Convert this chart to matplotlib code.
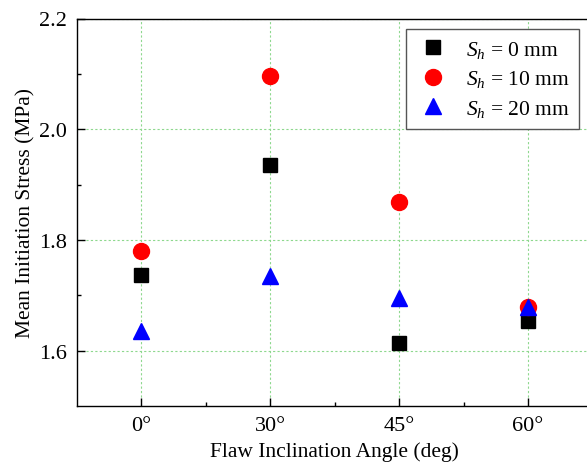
import matplotlib
matplotlib.use("Agg")
import matplotlib.pyplot as plt
from matplotlib.ticker import FixedLocator

plt.rcParams['font.family'] = ['Liberation Serif', 'DejaVu Serif']
plt.rcParams['mathtext.fontset'] = 'custom'
plt.rcParams['mathtext.rm'] = 'Liberation Serif'
plt.rcParams['mathtext.it'] = 'Liberation Serif:italic'

categories = ['0°', '30°', '45°', '60°']
sh0 = [1.737, 1.935, 1.613, 1.654]
sh10 = [1.780, 2.097, 1.869, 1.679]
sh20 = [1.636, 1.734, 1.695, 1.678]
labels = ['$S_h$ = 0 mm', '$S_h$ = 10 mm', '$S_h$ = 20 mm']

W, H = 587, 464
fig = plt.figure(figsize=(W / 100, H / 100), dpi=100)
left, right, top, bottom = 77, 592.5, 19.5, 407
ax = fig.add_axes([left / W, 1 - bottom / H, (right - left) / W, (bottom - top) / H])

x = list(range(1, len(categories) + 1))
ax.plot(x, sh0, ls='none', marker='s', ms=10, color='black', label=labels[0], zorder=3)
ax.plot(x, sh10, ls='none', marker='o', ms=11.5, color='#ff0000', label=labels[1], zorder=3)
ax.plot(x, sh20, ls='none', marker='^', ms=12, color='#0000ff', label=labels[2], zorder=4)

ax.set_xlim(0.5, 4.5)
ax.set_ylim(1.5, 2.2)
ax.set_xticks(x)
ax.set_xticklabels(categories)
ax.xaxis.set_minor_locator(FixedLocator([1.5, 2.5, 3.5]))
ax.yaxis.set_major_locator(FixedLocator([1.6, 1.8, 2.0, 2.2]))
ax.yaxis.set_minor_locator(FixedLocator([1.7, 1.9, 2.1]))
ax.tick_params(which='both', direction='in', labelsize=16, width=1.0)
ax.tick_params(which='major', length=5.5, pad=7)
ax.tick_params(which='minor', length=3)

ax.grid(True, which='major', color='#8ed88e', linestyle=(0, (2, 2)), linewidth=0.8, zorder=0)
ax.set_axisbelow(True)
for s in ax.spines.values():
    s.set_linewidth(1.0)

ax.set_xlabel('Flaw Inclination Angle (deg)', fontsize=15.5, labelpad=4.5)
ax.set_ylabel('Mean Initiation Stress (MPa)', fontsize=15.5, labelpad=3)

leg = ax.legend(loc='upper right', bbox_to_anchor=(579 / W, 1 - 30 / H),
                bbox_transform=fig.transFigure, borderaxespad=0, fontsize=15.5,
                fancybox=False, framealpha=1, edgecolor='#555555',
                handletextpad=0.7, labelspacing=0.4, borderpad=0.45,
                handlelength=1.6)
leg.get_frame().set_linewidth(1.0)

fig.savefig('out.png', dpi=100)
